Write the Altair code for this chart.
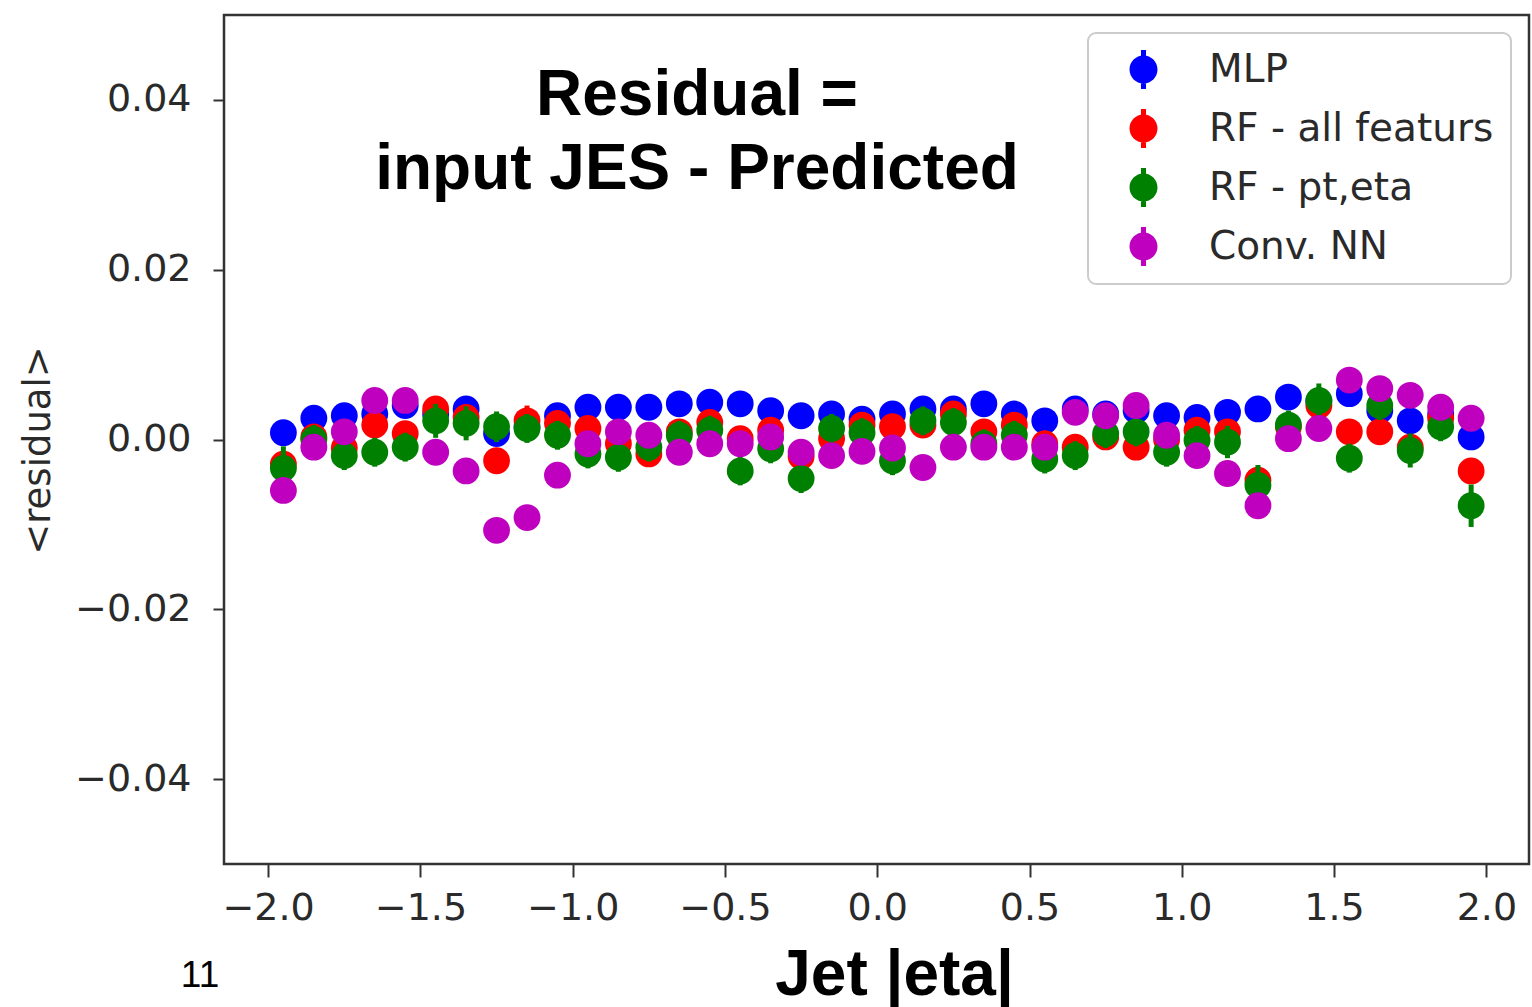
import altair as alt
import pandas as pd

eta = [-1.95, -1.85, -1.75, -1.65, -1.55, -1.45, -1.35, -1.25, -1.15, -1.05,
       -0.95, -0.85, -0.75, -0.65, -0.55, -0.45, -0.35, -0.25, -0.15, -0.05,
       0.05, 0.15, 0.25, 0.35, 0.45, 0.55, 0.65, 0.75, 0.85, 0.95,
       1.05, 1.15, 1.25, 1.35, 1.45, 1.55, 1.65, 1.75, 1.85, 1.95]

mlp = [0.0008, 0.0025, 0.0028, 0.0030, 0.0040, 0.0030, 0.0036, 0.0007, 0.0015, 0.0028,
       0.0038, 0.0038, 0.0038, 0.0042, 0.0044, 0.0042, 0.0034, 0.0028, 0.0030, 0.0024,
       0.0030, 0.0036, 0.0036, 0.0042, 0.0030, 0.0022, 0.0036, 0.0030, 0.0034, 0.0028,
       0.0026, 0.0032, 0.0036, 0.0050, 0.0045, 0.0054, 0.0034, 0.0022, 0.0030, 0.0003]

rf_all = [-0.0029, 0.0003, -0.0010, 0.0017, 0.0007, 0.0036, 0.0026, -0.0025, 0.0022, 0.0019,
          0.0013, -0.0005, -0.0017, 0.0009, 0.0020, 0.0001, 0.0011, -0.0020, 0.0001, 0.0017,
          0.0015, 0.0017, 0.0030, 0.0009, 0.0017, -0.0005, -0.0009, 0.0003, -0.0009, 0.0000,
          0.0011, 0.0009, -0.0048, 0.0015, 0.0040, 0.0009, 0.0009, -0.0009, 0.0025, -0.0037]

rf_pteta = [-0.0034, 0.0000, -0.0019, -0.0015, -0.0009, 0.0022, 0.0019, 0.0015, 0.0013, 0.0005,
            -0.0017, -0.0021, -0.0009, 0.0005, 0.0011, -0.0037, -0.0011, -0.0046, 0.0013, 0.0008,
            -0.0025, 0.0022, 0.0020, -0.0005, 0.0005, -0.0023, -0.0019, 0.0007, 0.0009, -0.0015,
            -0.0001, -0.0003, -0.0054, 0.0017, 0.0046, -0.0022, 0.0040, -0.0013, 0.0015, -0.0078]

conv = [-0.0060, -0.0009, 0.0009, 0.0046, 0.0046, -0.0015, -0.0037, -0.0107, -0.0092, -0.0042,
        -0.0005, 0.0009, 0.0005, -0.0015, -0.0005, -0.0005, 0.0003, -0.0015, -0.0019, -0.0014,
        -0.0010, -0.0033, -0.0009, -0.0009, -0.0009, -0.0009, 0.0032, 0.0028, 0.0040, 0.0005,
        -0.0019, -0.0040, -0.0078, 0.0001, 0.0013, 0.0070, 0.0060, 0.0052, 0.0038, 0.0025]

err_mlp = [0.0008, 0.0006, 0.0006, 0.0006, 0.0006, 0.0006, 0.0006, 0.0006, 0.0006, 0.0006,
           0.0006, 0.0006, 0.0006, 0.0006, 0.0006, 0.0006, 0.0006, 0.0006, 0.0006, 0.0006,
           0.0006, 0.0006, 0.0006, 0.0006, 0.0006, 0.0006, 0.0006, 0.0006, 0.0006, 0.0006,
           0.0006, 0.0006, 0.0006, 0.0006, 0.0006, 0.0006, 0.0006, 0.0006, 0.0006, 0.0008]
err_rf_all = [0.0014, 0.0010, 0.0010, 0.0010, 0.0010, 0.0010, 0.0010, 0.0010, 0.0018, 0.0010,
              0.0010, 0.0010, 0.0010, 0.0010, 0.0010, 0.0010, 0.0010, 0.0010, 0.0010, 0.0010,
              0.0010, 0.0010, 0.0010, 0.0010, 0.0010, 0.0010, 0.0010, 0.0010, 0.0010, 0.0010,
              0.0010, 0.0010, 0.0012, 0.0010, 0.0010, 0.0010, 0.0010, 0.0010, 0.0010, 0.0014]
err_rf_pteta = [0.0026, 0.0017, 0.0017, 0.0017, 0.0017, 0.0020, 0.0020, 0.0018, 0.0017, 0.0017,
                0.0017, 0.0017, 0.0017, 0.0017, 0.0017, 0.0017, 0.0017, 0.0017, 0.0017, 0.0017,
                0.0017, 0.0017, 0.0017, 0.0017, 0.0017, 0.0017, 0.0017, 0.0017, 0.0017, 0.0017,
                0.0017, 0.0019, 0.0024, 0.0017, 0.0020, 0.0017, 0.0017, 0.0020, 0.0017, 0.0025]
err_conv = [0.0008, 0.0008, 0.0008, 0.0008, 0.0008, 0.0008, 0.0008, 0.0008, 0.0008, 0.0008,
            0.0008, 0.0008, 0.0008, 0.0008, 0.0008, 0.0008, 0.0008, 0.0008, 0.0008, 0.0008,
            0.0008, 0.0008, 0.0008, 0.0008, 0.0008, 0.0008, 0.0008, 0.0008, 0.0008, 0.0008,
            0.0008, 0.0008, 0.0008, 0.0008, 0.0008, 0.0008, 0.0008, 0.0008, 0.0008, 0.0008]

series_names = ["MLP", "RF - all featurs", "RF - pt,eta", "Conv. NN"]
series_colors = ["#0000ff", "#ff0000", "#008000", "#bf00bf"]
x_ticks = [-2.0, -1.5, -1.0, -0.5, 0.0, 0.5, 1.0, 1.5, 2.0]
y_ticks = [-0.04, -0.02, 0.0, 0.02, 0.04]
title_lines = ["Residual =", "input JES - Predicted"]
x_title = "Jet |eta|"
y_title = "<residual>"
page_number = "11"

rows = []
for name, vals, errs in zip(series_names,
                            [mlp, rf_all, rf_pteta, conv],
                            [err_mlp, err_rf_all, err_rf_pteta, err_conv]):
    for x, v, e in zip(eta, vals, errs):
        rows.append({"eta": x, "res": v, "lo": v - e, "hi": v + e, "model": name})
df = pd.DataFrame(rows)

TXT = "#2a2a2a"
xscale = alt.Scale(domain=[-2.145, 2.14], nice=False, zero=False)
yscale = alt.Scale(domain=[-0.05, 0.05], nice=False, zero=False)

xaxis = alt.Axis(values=x_ticks, format=".1f", title=x_title, grid=False, domain=False,
                 tickSize=13, tickWidth=2, tickColor="#333333",
                 labelFont="DejaVu Sans", labelFontSize=38, labelColor=TXT, labelPadding=12,
                 titleFont="Liberation Sans", titleFontSize=64, titleFontWeight="bold",
                 titleColor="#000000", titleX=670, titleY=130, titleAlign="center",
                 titleBaseline="alphabetic")
yaxis = alt.Axis(values=y_ticks, format=".2f", title=y_title, grid=False, domain=False,
                 tickSize=11, tickWidth=2, tickColor="#333333",
                 labelFont="DejaVu Sans", labelFontSize=38, labelColor=TXT, labelPadding=22,
                 titleFont="DejaVu Sans", titleFontSize=37, titleFontWeight="normal",
                 titleColor=TXT, titleX=-186, titleY=435, titleAngle=270,
                 titleAlign="center", titleBaseline="middle")

legend_symbol = "M1,0A1,1,0,1,1,-1,0A1,1,0,1,1,1,0Z M-0.18,-1.4H0.18V1.4H-0.18Z"
color = alt.Color("model:N",
                  scale=alt.Scale(domain=series_names, range=series_colors),
                  legend=alt.Legend(title=None, orient="none", legendX=864, legendY=18,
                                    fillColor="#ffffff",
                                    symbolType=legend_symbol, symbolSize=784,
                                    symbolStrokeWidth=0, symbolOpacity=1,
                                    symbolOffset=19, labelOffset=46,
                                    labelFont="DejaVu Sans", labelFontSize=39,
                                    labelColor=TXT, labelLimit=0))

layers = []
for name in series_names:
    base = alt.Chart(df).transform_filter(alt.datum.model == name)
    rule = base.mark_rule(strokeWidth=5).encode(
        x=alt.X("eta:Q", scale=xscale, axis=xaxis),
        y=alt.Y("lo:Q", scale=yscale, axis=yaxis),
        y2="hi:Q",
        color=color,
    )
    pts = base.mark_circle(size=720, opacity=1).encode(
        x=alt.X("eta:Q", scale=xscale, axis=xaxis),
        y=alt.Y("res:Q", scale=yscale, axis=yaxis),
        color=color,
    )
    layers += [rule, pts]

tdf = pd.DataFrame({"t1": [title_lines[0]], "t2": [title_lines[1]], "n": [page_number]})
t1 = alt.Chart(tdf).mark_text(font="Liberation Sans", fontSize=64, fontWeight="bold",
                              color="#000000", align="center", baseline="alphabetic").encode(
    text="t1:N", x=alt.value(473), y=alt.value(100))
t2 = alt.Chart(tdf).mark_text(font="Liberation Sans", fontSize=64, fontWeight="bold",
                              color="#000000", align="center", baseline="alphabetic").encode(
    text="t2:N", x=alt.value(473), y=alt.value(174))
num = alt.Chart(tdf).mark_text(font="Liberation Sans", fontSize=37, color="#000000",
                               align="center", baseline="alphabetic").encode(
    text="n:N", x=alt.value(-24), y=alt.value(972))

chart = alt.layer(*layers, t1, t2, num).properties(
    width=1305, height=849,
    padding={"left": 224, "top": 15, "right": 2, "bottom": 143},
    autosize=alt.AutoSizeParams(type="none"),
    background="#ffffff",
).configure_view(
    stroke="#333333", strokeWidth=2.5
).configure_legend(
    padding=17, strokeColor="#cccccc", strokeWidth=2, cornerRadius=8, rowPadding=18
)

chart.save("out.html", embed_options={"renderer": "svg", "actions": False})
